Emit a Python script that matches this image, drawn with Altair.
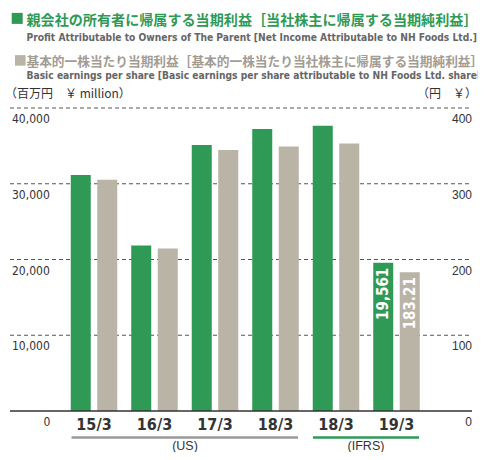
import altair as alt
import pandas as pd

# ---------------- data ----------------
periods = ["15/3", "16/3", "17/3", "18/3", "18/3", "19/3"]
standards = ["US", "US", "US", "US", "IFRS", "IFRS"]
profit = [31150, 21850, 35110, 37230, 37660, 19561]      # ¥ million (left axis)
eps = [305.3, 214.5, 344.5, 349.3, 353.3, 183.21]          # ¥ (right axis)
bar_labels_profit = ["", "", "", "", "", "19,561"]
bar_labels_eps = ["", "", "", "", "", "183.21"]

left_ticks = [0, 10000, 20000, 30000, 40000]
left_tick_labels = ["0", "10,000", "20,000", "30,000", "40,000"]
right_ticks = [0, 100, 200, 300, 400]
right_tick_labels = ["0", "100", "200", "300", "400"]
grid_vals = [10000, 20000, 30000, 40000]

title1 = "親会社の所有者に帰属する当期利益［当社株主に帰属する当期純利益］"
title2 = "Profit Attributable to Owners of The Parent [Net Income Attributable to NH Foods Ltd.]"
title3 = "基本的一株当たり当期利益［基本的一株当たり当社株主に帰属する当期純利益］"
title4 = "Basic earnings per share [Basic earnings per share attributable to NH Foods Ltd. shareholders]"
unit_left = "（百万円　￥ million）"
unit_right = "（円　￥）"
group_us = "(US)"
group_ifrs = "(IFRS)"

GREEN = "#2f9a56"
BEIGE = "#bab4a6"
NARROW = "DejaVu Sans Condensed, Liberation Sans Narrow, Roboto"
CJK = "Noto Sans CJK JP"

# ---------------- layout helpers (page px -> plot px) ----------------
PL, PT = 63.75, 108.0
W, H = 363, 303
SVG_W, SVG_H = 470, 444


def px(x):
    return x - PL


def py(y):
    return y - PT


keys = [p + " " + s for p, s in zip(periods, standards)]

rows = []
for k, p, v, lab in zip(keys, periods, profit, bar_labels_profit):
    rows.append({"key": k, "period": p, "series": "profit", "value": v, "label": lab})
for k, p, v, lab in zip(keys, periods, eps, bar_labels_eps):
    rows.append({"key": k, "period": p, "series": "eps", "value": v, "label": lab})
bars_df = pd.DataFrame(rows)

yscale = alt.Scale(domain=[0, 40000], nice=False, zero=True)
xscale = alt.Scale(domain=keys, paddingInner=0, paddingOuter=0)
xoff = alt.Scale(domain=["profit", "eps"], paddingInner=0.245, paddingOuter=0.264)

base_bars = alt.Chart(bars_df).transform_calculate(
    y="datum.series == 'eps' ? datum.value * 100 : datum.value"
)

bars = base_bars.mark_bar().encode(
    x=alt.X("key:N", scale=xscale, axis=None, sort=keys),
    xOffset=alt.XOffset("series:N", scale=xoff, sort=["profit", "eps"]),
    y=alt.Y("y:Q", scale=yscale, axis=None),
    color=alt.Color("series:N", scale=alt.Scale(domain=["profit", "eps"], range=[GREEN, BEIGE]), legend=None),
)

bar_text = base_bars.transform_filter("datum.label != ''").mark_text(
    angle=270, align="right", baseline="middle", dx=-5, color="white",
    font=NARROW, fontWeight="bold", fontSize=15,
).encode(
    x=alt.X("key:N", scale=xscale, axis=None, sort=keys),
    xOffset=alt.XOffset("series:N", scale=xoff, sort=["profit", "eps"]),
    y=alt.Y("y:Q", scale=yscale, axis=None),
    text="label:N",
)

grid = alt.Chart(pd.DataFrame({"v": grid_vals})).mark_rule(
    color="#555555", strokeDash=[4, 3], strokeWidth=1
).encode(
    y=alt.Y("v:Q", scale=yscale, axis=None),
    x=alt.value(px(10)), x2=alt.value(px(472)),
)

baseline = alt.Chart(pd.DataFrame({"v": [0]})).mark_rule(
    color="#333333", strokeWidth=1.5
).encode(
    y=alt.Y("v:Q", scale=yscale, axis=None),
    x=alt.value(px(10)), x2=alt.value(px(472)),
)

ldf = pd.DataFrame({"v": left_ticks[1:], "t": left_tick_labels[1:]})
left_labels = alt.Chart(ldf).mark_text(
    align="left", baseline="alphabetic", dy=15, font=NARROW, fontSize=12, color="#333333"
).encode(y=alt.Y("v:Q", scale=yscale, axis=None), x=alt.value(px(12)), text="t:N")

left_zero = alt.Chart(pd.DataFrame({"v": left_ticks[:1], "t": left_tick_labels[:1]})).mark_text(
    align="center", baseline="alphabetic", dy=15, font=NARROW, fontSize=12, color="#333333"
).encode(y=alt.Y("v:Q", scale=yscale, axis=None), x=alt.value(px(47)), text="t:N")

rdf = pd.DataFrame({"v": right_ticks, "t": right_tick_labels})
right_labels = alt.Chart(rdf).transform_calculate(y="datum.v * 100").mark_text(
    align="right", baseline="alphabetic", dy=15, font="Liberation Sans", fontSize=12, color="#333333"
).encode(y=alt.Y("y:Q", scale=yscale, axis=None), x=alt.value(px(472)), text="t:N")

cat_df = pd.DataFrame({"key": keys, "period": periods})
cat_labels = alt.Chart(cat_df).mark_text(
    baseline="alphabetic", font=NARROW, fontWeight="bold", fontSize=16, color="#333333"
).encode(
    x=alt.X("key:N", scale=xscale, axis=None, sort=keys),
    y=alt.value(py(430)),
    text="period:N",
)

gray_line = alt.Chart(pd.DataFrame({"a": [0]})).mark_rule(color="#9a9a9a", strokeWidth=2.5).encode(
    x=alt.value(px(71.5)), x2=alt.value(px(298)), y=alt.value(py(437.5))
)
green_line = alt.Chart(pd.DataFrame({"a": [0]})).mark_rule(color=GREEN, strokeWidth=2.5).encode(
    x=alt.value(px(313)), x2=alt.value(px(419)), y=alt.value(py(437.5))
)


def txt(s, x, y, **kw):
    return alt.Chart(pd.DataFrame({"t": [s]})).mark_text(baseline="alphabetic", **kw).encode(
        x=alt.value(px(x)), y=alt.value(py(y)), text="t:N"
    )


g_us = txt(group_us, 185, 449.5, align="center", font="Liberation Sans", fontSize=12.5, color="#333333")
g_ifrs = txt(group_ifrs, 366, 449.5, align="center", font="Liberation Sans", fontSize=12.5, color="#333333")

sq1 = alt.Chart(pd.DataFrame({"a": [0]})).mark_square(size=121, color=GREEN, opacity=1).encode(
    x=alt.value(px(17.2)), y=alt.value(py(18.4))
)
sq2 = alt.Chart(pd.DataFrame({"a": [0]})).mark_square(size=112, color=BEIGE, opacity=1).encode(
    x=alt.value(px(20.3)), y=alt.value(py(60.4))
)

t1 = txt(title1, 26.5, 24.5, align="left", font=CJK, fontWeight="bold", fontSize=14.1, color=GREEN)
t2 = txt(title2, 26.5, 41, align="left", font=NARROW, fontWeight="bold", fontSize=10.2, color="#666666")
t3 = txt(title3, 26.5, 65.5, align="left", font=CJK, fontWeight="bold", fontSize=12.7, color="#a29c93")
t4 = txt(title4, 26.5, 79, align="left", font=NARROW, fontWeight="bold", fontSize=10.2, color="#666666")
u1 = txt(unit_left, 5, 98, align="left", font=CJK, fontSize=12, color="#333333")
u2 = txt(unit_right, 477, 98, align="right", font=CJK, fontSize=12, color="#333333")

chart = alt.layer(
    grid, bars, bar_text, baseline, left_labels, left_zero, right_labels, cat_labels,
    gray_line, green_line, g_us, g_ifrs, sq1, sq2, t1, t2, t3, t4, u1, u2,
).properties(
    width=W, height=H,
    padding={"left": PL - 8, "top": PT - 8, "right": SVG_W - (PL - 8) - W, "bottom": SVG_H - (PT - 8) - H},
    autosize="none",
).configure_view(stroke=None)

chart.save("out.html", embed_options={"renderer": "svg", "actions": False})
